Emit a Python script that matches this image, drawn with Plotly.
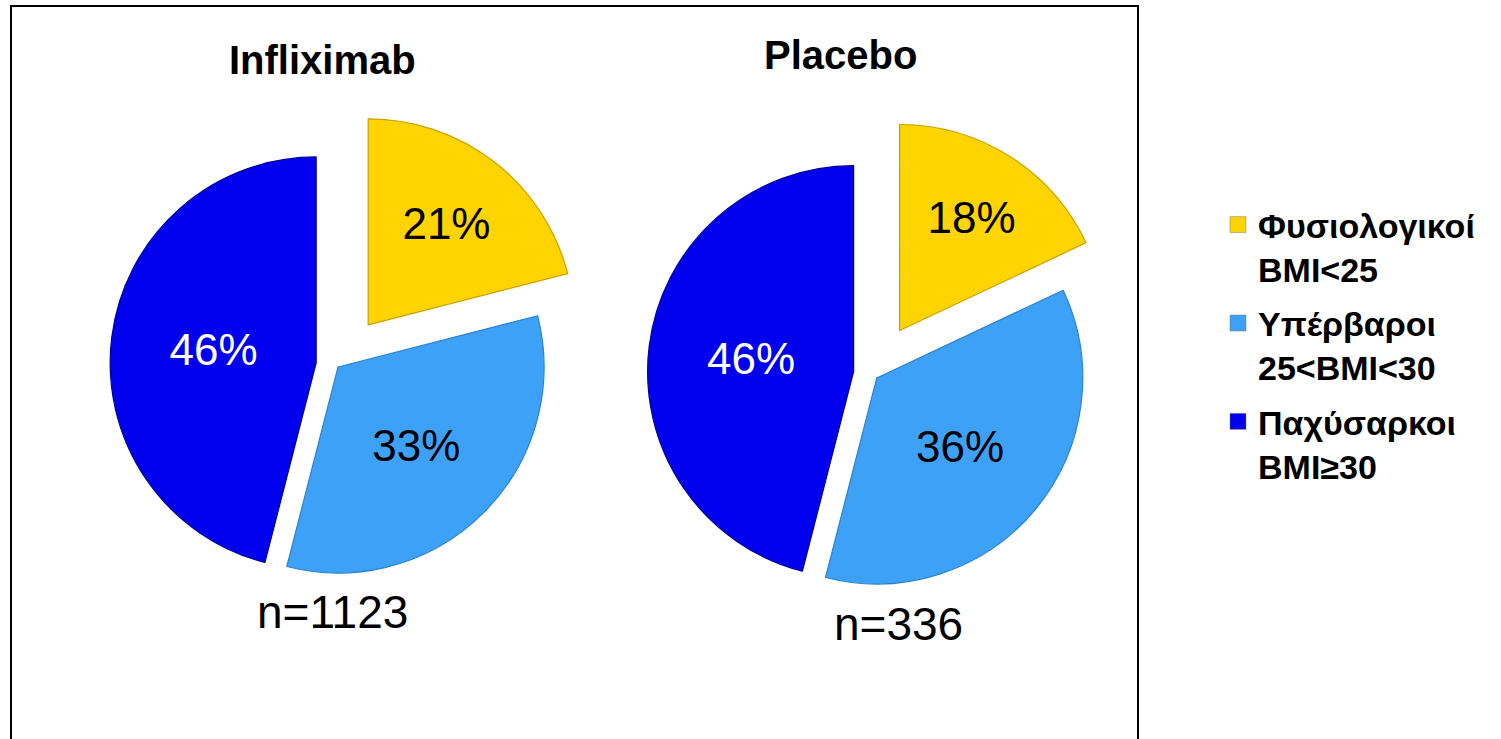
import plotly.graph_objects as go

# ---------------- data ----------------
categories = ["Φυσιολογικοί<br>BMI&lt;25",
              "Υπέρβαροι<br>25&lt;BMI&lt;30",
              "Παχύσαρκοι<br>BMI≥30"]
infliximab_pct = [21, 33, 46]
placebo_pct = [18, 36, 46]
group_titles = ["Infliximab", "Placebo"]
group_n = ["n=1123", "n=336"]

# ---------------- style ----------------
W, H = 1501, 739
slice_colors = ["#FFD400", "#3DA2F7", "#0000EE"]
edge_colors = ["#C9A200", "#2A82CF", "#00009A"]
text_colors = ["black", "black", "white"]
FONT = "Liberation Sans, Arial, sans-serif"

def px_x(x):
    return x / W

def px_y(y):
    return 1 - y / H

def domain_for(cx, cy, r, maxpull):
    half = r * (1 + maxpull)
    return dict(x=[(cx - half) / W, (cx + half) / W],
                y=[(H - cy - half) / H, (H - cy + half) / H])

fig = go.Figure()

pie_specs = [
    (infliximab_pct, [0.25, 0.01, 0.10], 336.6, 365.5),
    (placebo_pct, [0.25, 0.03, 0.09], 872, 374),
]
for vals, pulls, cx, cy in pie_specs:
    fig.add_trace(go.Pie(
        labels=categories,
        values=vals,
        sort=False,
        direction="clockwise",
        rotation=0,
        pull=pulls,
        domain=domain_for(cx, cy, 206, max(pulls)),
        marker=dict(colors=slice_colors, line=dict(color=edge_colors, width=1.2)),
        texttemplate="%{value}%",
        textposition="inside",
        insidetextorientation="horizontal",
        insidetextfont=dict(family=FONT, size=44, color=text_colors),
        hoverinfo="label+percent",
        showlegend=False,
    ))

# legend entries (one group per category so spacing can be set)
for lab, col in zip(categories, slice_colors):
    fig.add_trace(go.Scatter(
        x=[None], y=[None], mode="markers", name=lab,
        legendgroup=lab,
        marker=dict(symbol="square", size=16, color=col,
                    line=dict(color="#7a7a7a", width=0.5)),
    ))

annotations = []
title_pos = [(322, 60), (840, 55)]
for t, (x, y) in zip(group_titles, title_pos):
    annotations.append(dict(text=t, x=px_x(x), y=px_y(y), xref="paper", yref="paper",
                            xanchor="center", yanchor="middle", showarrow=False,
                            font=dict(family=FONT, size=40, color="black", weight="bold")))
n_pos = [(332, 612), (898, 624)]
for t, (x, y) in zip(group_n, n_pos):
    annotations.append(dict(text=t, x=px_x(x), y=px_y(y), xref="paper", yref="paper",
                            xanchor="center", yanchor="middle", showarrow=False,
                            font=dict(family=FONT, size=46, color="black")))

fig.update_layout(
    width=W, height=H,
    margin=dict(l=0, r=0, t=0, b=0),
    paper_bgcolor="white",
    plot_bgcolor="white",
    xaxis=dict(visible=False),
    yaxis=dict(visible=False),
    annotations=annotations,
    showlegend=True,
    legend=dict(
        x=px_x(1218), y=px_y(196), xanchor="left", yanchor="top",
        valign="top", tracegroupgap=7,
        font=dict(family=FONT, size=34, color="black", weight="bold"),
        bgcolor="rgba(0,0,0,0)",
    ),
    shapes=[dict(type="rect", xref="paper", yref="paper",
                 x0=px_x(11), x1=px_x(1138), y0=-0.05, y1=px_y(6),
                 line=dict(color="black", width=2), fillcolor="rgba(0,0,0,0)",
                 layer="above")],
)

fig.write_html("out.html")
